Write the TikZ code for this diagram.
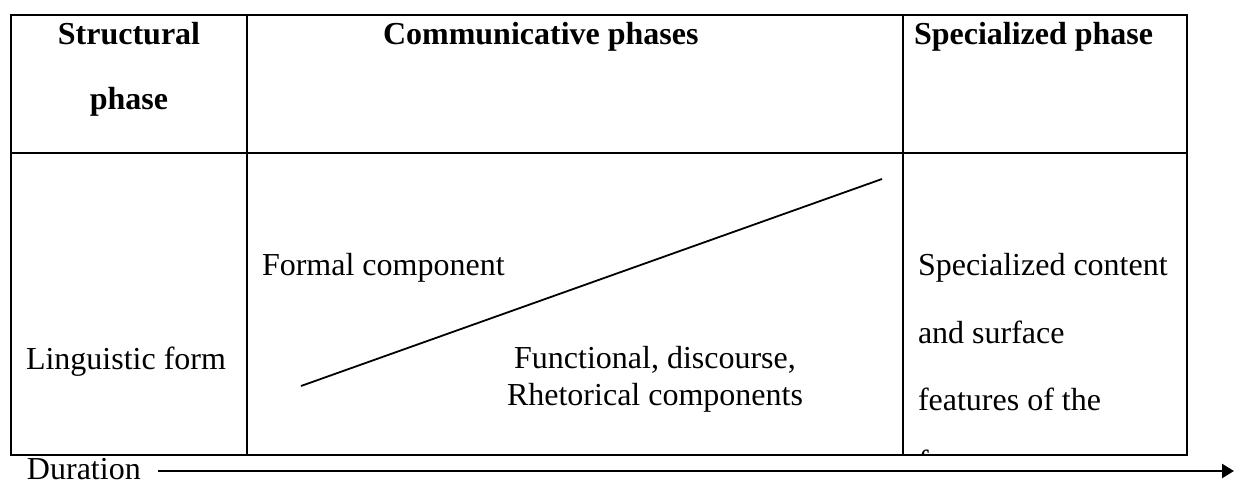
\documentclass[tikz,border=0pt]{standalone}
\usepackage{fontspec}
\setmainfont{Liberation Serif}
\usetikzlibrary{arrows.meta}
\tikzset{
  txt/.style = {inner sep=0pt, outer sep=0pt, anchor=base west,
                font=\fontsize{32}{38}\selectfont},
  hdr/.style = {txt, font=\fontsize{32}{38}\selectfont\bfseries}
}

\begin{document}
\begin{tikzpicture}[x=1pt,y=-1pt]
	\def \lw{2.4pt}
	\def \top{15}
	\def \bot{455}
	\useasboundingbox (0,0) rectangle (1234,486);

	% Table frame
	\draw[line width=\lw] (11,\top) rectangle (1187,\bot);
	\draw[line width=\lw] (11,153) -- (1187,153); % header row
	\draw[line width=\lw] (247,\top) -- (247,\bot); % column 1
	\draw[line width=\lw] (903,\top) -- (903,\bot); % column 2

	% Header
	\node[hdr, anchor=base] (structA) at (129,45) {Structural};
	\node[hdr, anchor=base] (structB) at (129,110) {phase};
	\node[hdr] (commHead) at (383,45) {Communicative phases};
	\node[hdr] (specHead) at (914,45) {Specialized phase};

	% Body
	\node[txt] (lingForm) at (26,369) {Linguistic form};
	\node[txt] (formal) at (262,276) {Formal component};
	\node[txt, anchor=base] (funcA) at (655,368) {Functional, discourse,};
	\node[txt, anchor=base] (funcB) at (655,405) {Rhetorical components};

	\node[txt] (specA) at (918,276) {Specialized content};
	\node[txt] (specB) at (918,343) {and surface};
	\node[txt] (specC) at (918,410) {features of the};
	\begin{scope}
		\clip (905,153) rectangle (1185,454);
		\node[txt] (specD) at (918,472) {form};
	\end{scope}

	% Diagonal
	\coordinate (diagA) at (301,386);
	\coordinate (diagB) at (882,179);
	\draw[line width=1.8pt] (diagA) -- (diagB);

	% Duration
	\node[txt] (dur) at (27,479) {Duration};
	\coordinate (durA) at (158,471);
	\coordinate (durB) at (1234,471);
	\draw[line width=\lw, -{Triangle[length=12pt,width=14pt]}] (durA) -- (durB);

\end{tikzpicture}
\end{document}
